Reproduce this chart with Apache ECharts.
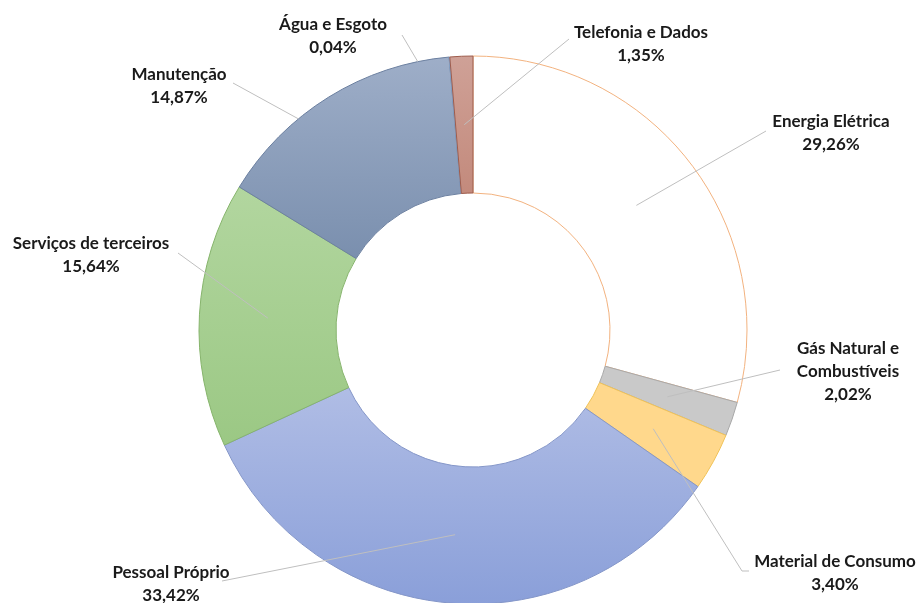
<!DOCTYPE html>
<html>
<head>
<meta charset="utf-8">
<script src="https://cdn.jsdelivr.net/npm/echarts@6/dist/echarts.min.js"></script>
<style>
html,body{margin:0;padding:0;background:#fff;}
#chart{width:918px;height:603px;}
</style>
</head>
<body>
<div id="chart"></div>
<script>
// ---- data ----
const categories = [
  'Energia Elétrica',
  'Gás Natural e\nCombustíveis',
  'Material de Consumo',
  'Pessoal Próprio',
  'Serviços de terceiros',
  'Manutenção',
  'Água e Esgoto',
  'Telefonia e Dados'
];
const shares = [29.26, 2.02, 3.40, 33.42, 15.64, 14.87, 0.04, 1.35];

// ---- styles / layout (not data) ----
function grad(a, b) {
  return new echarts.graphic.LinearGradient(0, 0, 0, 1, [
    { offset: 0, color: a }, { offset: 1, color: b }
  ]);
}
const fills = [
  '#ffffff',
  '#c9c9c9',
  '#ffd88c',
  grad('#b0bde5', '#8a9fd9'),
  grad('#b2d69f', '#9bc884'),
  grad('#9eaec8', '#7a8fae'),
  '#b6d1ec',
  grad('#cfa197', '#c38a7c')
];
const borders = ['#f2b27f', '#a8a8a8', '#f0c257', '#8496c8', '#86b46c', '#6c80a0', '#7f9fc7', '#9e5c4c'];
// label centre, and leader polyline tail points beside the label
const labelPos = [
  [831, 133], [848, 372], [835, 573], [171, 584],
  [91, 255], [179, 86], [333, 36], [641, 44]
];
const lineTail = [
  [[766, 131]], [[780, 370]], [[742, 571], [749, 571]], [[222, 581]],
  [[178, 253]], [[233, 83]], [[402, 35]], [[569, 39]]
];
// leaders aimed at the ring middle; some are stopped at the outer edge
const clipAtEdge = [false, false, false, false, false, true, true, false];
const CX = 473, CY = 330, R0 = 137, R1 = 274;

function edgeHit(a, b) {
  // point where segment a->b first meets outer circle
  const dx = b[0] - a[0], dy = b[1] - a[1];
  const fx = a[0] - CX, fy = a[1] - CY;
  const A = dx * dx + dy * dy, B = 2 * (fx * dx + fy * dy), Cc = fx * fx + fy * fy - R1 * R1;
  const disc = B * B - 4 * A * Cc;
  if (disc < 0) return b;
  const t = (-B - Math.sqrt(disc)) / (2 * A);
  return [a[0] + dx * t, a[1] + dy * t];
}

const chart = echarts.init(document.getElementById('chart'), null, { renderer: 'canvas' });
const data = categories.map((n, i) => ({
  name: n,
  value: shares[i],
  itemStyle: { color: fills[i], borderColor: borders[i], borderWidth: 1 }
}));
const overlayData = categories.map((n, i) => ({ name: n, value: shares[i] }));

chart.setOption({
  animation: false,
  series: [{
    type: 'pie',
    z: 2,
    center: [CX, CY],
    radius: [R0, R1],
    startAngle: 90,
    clockwise: true,
    data: data,
    label: { show: false },
    labelLine: { show: false },
    emphasis: { disabled: true },
    silent: true
  }, {
    type: 'pie',
    z: 5,
    center: [CX, CY],
    radius: [R0, R1],
    startAngle: 90,
    clockwise: true,
    avoidLabelOverlap: false,
    data: overlayData,
    itemStyle: { color: 'rgba(0,0,0,0)', borderWidth: 0 },
    label: {
      show: true,
      position: 'outside',
      formatter: p => p.name + '\n' + p.value.toFixed(2).replace('.', ',') + '%',
      fontFamily: 'Lato',
      fontWeight: 'bold',
      fontSize: 17,
      lineHeight: 23,
      color: '#1a1a1a',
      align: 'center'
    },
    labelLine: {
      show: true,
      length: 10,
      length2: 10,
      lineStyle: { color: '#bfbfbf', width: 1 }
    },
    labelLayout: function (params) {
      const i = params.dataIndex;
      const p0 = params.labelLinePoints[0];
      const f = (R0 + R1) / 2 / R1;
      let start = [CX + (p0[0] - CX) * f, CY + (p0[1] - CY) * f];
      const tail = lineTail[i];
      if (clipAtEdge[i]) start = edgeHit(tail[0], start);
      const pts = [start].concat(tail);
      if (pts.length < 3) pts.push(pts[pts.length - 1]);
      return {
        x: labelPos[i][0],
        y: labelPos[i][1],
        align: 'center',
        verticalAlign: 'middle',
        labelLinePoints: pts
      };
    },
    emphasis: { disabled: true },
    silent: true
  }]
});
</script>
</body>
</html>
